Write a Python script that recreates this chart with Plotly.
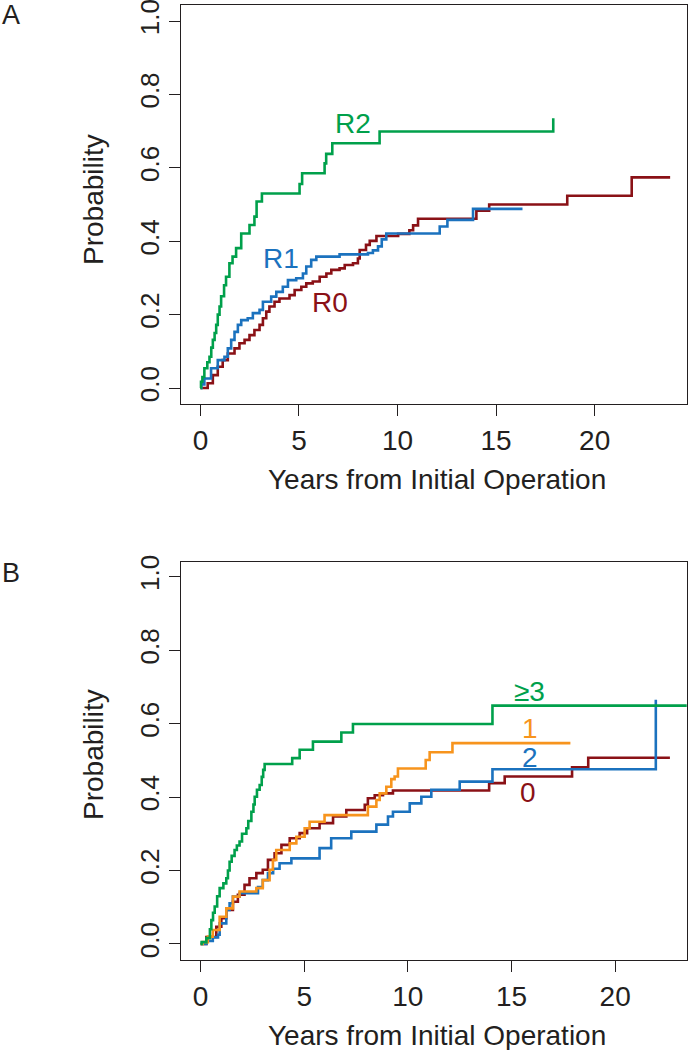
import plotly.graph_objects as go

# ---------------- Panel A: resection margin ----------------
r2_t = [0, 0.03, 0.1, 0.2, 0.35, 0.46, 0.55, 0.63, 0.72, 0.80, 0.88, 0.97, 1.05, 1.2, 1.30, 1.47, 1.63, 1.81,
        2.07, 2.49, 2.74, 2.85, 3.12, 5.03, 5.16, 6.30, 6.38, 6.69, 9.09, 17.9]
r2_p = [0, 0.017, 0.03, 0.054, 0.07, 0.085, 0.11, 0.131, 0.15, 0.172, 0.2, 0.222, 0.25, 0.28, 0.303, 0.34, 0.358,
        0.381, 0.421, 0.444, 0.467, 0.508, 0.530, 0.556, 0.585, 0.612, 0.638, 0.667, 0.699, 0.735]

r1_t = [0, 0.05, 0.2, 0.54, 0.88, 1.22, 1.39, 1.56, 1.73, 1.9, 2.07, 2.4, 2.66, 3.0, 3.17, 3.59, 3.85, 4.18,
        4.44, 4.86, 5.2, 5.37, 5.62, 5.88, 7.06, 8.5, 8.75, 9.01, 9.2, 9.43, 12.14, 12.53, 13.83, 16.34]
r1_p = [0, 0.01, 0.026, 0.054, 0.076, 0.085, 0.108, 0.131, 0.153, 0.172, 0.185, 0.19, 0.204, 0.213, 0.235, 0.249,
        0.262, 0.276, 0.294, 0.299, 0.312, 0.331, 0.349, 0.358, 0.364, 0.368, 0.375, 0.386, 0.405, 0.421, 0.44,
        0.458, 0.488, 0.488]

r0_t = [0, 0.37, 0.63, 0.88, 1.13, 1.39, 1.73, 1.98, 2.24, 2.49, 2.74, 3.0, 3.17, 3.34, 3.5, 3.76, 4.01, 4.52,
        4.78, 5.12, 5.37, 5.7, 6.05, 6.39, 6.64, 7.06, 7.32, 7.74, 7.99, 8.08, 8.4, 8.59, 8.93, 10.03, 10.6,
        10.79, 11.04, 14.0, 14.65, 18.61, 21.88, 23.83]
r0_p = [0, 0.013, 0.035, 0.058, 0.076, 0.094, 0.108, 0.122, 0.131, 0.144, 0.158, 0.172, 0.19, 0.208, 0.222,
        0.235, 0.244, 0.253, 0.267, 0.276, 0.285, 0.29, 0.303, 0.312, 0.322, 0.326, 0.335, 0.34, 0.353, 0.376,
        0.39, 0.401, 0.414, 0.42, 0.43, 0.443, 0.461, 0.483, 0.5, 0.524, 0.574, 0.574]

# ---------------- Panel B ----------------
g3_t = [0, 0.05, 0.28, 0.45, 0.52, 0.6, 0.68, 0.8, 0.92, 1.1, 1.24, 1.32, 1.4, 1.5, 1.64, 1.75, 1.88, 2.0,
        2.21, 2.3, 2.45, 2.55, 2.61, 2.72, 2.85, 2.95, 3.02, 3.09, 4.42, 4.78, 5.42, 6.79, 7.35, 14.08, 23.6]
g3_p = [0, 0.005, 0.016, 0.04, 0.065, 0.085, 0.102, 0.13, 0.152, 0.165, 0.179, 0.2, 0.224, 0.24, 0.256, 0.268,
        0.279, 0.3, 0.315, 0.335, 0.36, 0.38, 0.401, 0.42, 0.433, 0.455, 0.474, 0.49, 0.506, 0.529, 0.551,
        0.576, 0.599, 0.649, 0.649]

n1_t = [0, 0.1, 0.35, 0.59, 0.92, 1.24, 1.56, 1.88, 2.69, 3.0, 3.33, 3.49, 3.65, 4.3, 4.62, 5.02, 5.26, 5.98,
        8.07, 8.48, 8.64, 8.96, 9.2, 9.36, 9.52, 10.86, 11.05, 12.15, 17.84]
n1_p = [0, 0.005, 0.02, 0.038, 0.074, 0.097, 0.129, 0.143, 0.152, 0.174, 0.202, 0.229, 0.256, 0.274, 0.292,
        0.315, 0.333, 0.351, 0.374, 0.392, 0.41, 0.428, 0.449, 0.456, 0.478, 0.501, 0.522, 0.547, 0.547]

n2_t = [0, 0.28, 0.59, 0.84, 0.92, 1.24, 1.4, 1.56, 1.88, 2.77, 3.0, 3.25, 3.5, 3.81, 4.38, 5.74, 6.3, 7.27,
        8.48, 9.04, 9.28, 10.09, 10.65, 11.13, 12.5, 14.08, 21.96]
n2_p = [0, 0.008, 0.018, 0.025, 0.056, 0.093, 0.111, 0.129, 0.138, 0.155, 0.174, 0.193, 0.205, 0.22, 0.233,
        0.261, 0.288, 0.306, 0.325, 0.347, 0.36, 0.383, 0.401, 0.42, 0.442, 0.476, 0.665]

n0_t = [0, 0.28, 0.76, 1.0, 1.24, 1.56, 1.8, 2.12, 2.36, 2.69, 3.0, 3.25, 3.57, 3.9, 4.3, 4.78, 5.14, 5.74,
        6.39, 7.03, 7.92, 8.07, 8.4, 8.8, 9.28, 13.92, 14.67, 17.92, 18.7, 22.64]
n0_p = [0, 0.019, 0.047, 0.07, 0.093, 0.115, 0.134, 0.161, 0.179, 0.193, 0.202, 0.229, 0.247, 0.27, 0.288,
        0.302, 0.315, 0.329, 0.347, 0.365, 0.379, 0.397, 0.405, 0.41, 0.418, 0.438, 0.456, 0.481, 0.507, 0.507]

x_ticks = [0, 5, 10, 15, 20]
y_ticks = [0.0, 0.2, 0.4, 0.6, 0.8, 1.0]
x_title = "Years from Initial Operation"
y_title = "Probability"

GREEN = "#00A04B"
BLUE = "#1B72BE"
RED = "#8A1116"
ORANGE = "#F7941D"
INK = "#231F20"
FONT = "Liberation Sans, Arial, sans-serif"
FS = 28
W, H = 688, 1050

fig = go.Figure()

def add(t, p, color, xa, ya):
    fig.add_trace(go.Scatter(x=t, y=p, mode="lines", line=dict(color=color, width=2.6, shape="hv"),
                             xaxis=xa, yaxis=ya, showlegend=False, hoverinfo="skip", cliponaxis=True))

add(r0_t, r0_p, RED, "x", "y")
add(r1_t, r1_p, BLUE, "x", "y")
add(r2_t, r2_p, GREEN, "x", "y")
add(n0_t, n0_p, RED, "x2", "y2")
add(n2_t, n2_p, BLUE, "x2", "y2")
add(n1_t, n1_p, ORANGE, "x2", "y2")
add(g3_t, g3_p, GREEN, "x2", "y2")

xdom = [181.3 / W, 686.7 / W]
axis_common = dict(showline=True, mirror=True, linecolor=INK, linewidth=1.3, ticks="outside", ticklen=11,
                   tickwidth=1.3, tickcolor=INK, showgrid=False, zeroline=False, automargin=False,
                   ticklabeloverflow="allow", fixedrange=True)
xfont = dict(family=FONT, size=28, color=INK)
yfont = dict(family=FONT, size=26, color=INK)

fig.update_layout(
    width=W, height=H, margin=dict(l=0, r=0, t=0, b=0),
    paper_bgcolor="white", plot_bgcolor="white", showlegend=False, hovermode=False,
    xaxis=dict(domain=xdom, range=[-0.97, 24.67], tickvals=x_ticks, anchor="y", tickfont=xfont, **axis_common),
    yaxis=dict(domain=[1 - 404 / H, 1 - 5 / H], range=[-0.0436, 1.0436], tickvals=y_ticks,
               tickformat=".1f", tickangle=-90, anchor="x", tickfont=yfont, **axis_common),
    xaxis2=dict(domain=xdom, range=[-0.93, 23.45], tickvals=x_ticks, anchor="y2", tickfont=xfont, **axis_common),
    yaxis2=dict(domain=[1 - 960 / H, 1 - 561.7 / H], range=[-0.0436, 1.041], tickvals=y_ticks,
                tickformat=".1f", tickangle=-90, anchor="x2", tickfont=yfont, **axis_common),
)

ann = []
def txt(text, x, y, color=INK, xref="paper", yref="paper", angle=0, size=FS):
    ann.append(dict(text=text, x=x, y=y, xref=xref, yref=yref, showarrow=False, textangle=angle,
                    font=dict(family=FONT, size=size, color=color), xanchor="center", yanchor="middle"))

# panel letters
txt("A", 11 / W, 1 - 15 / H, size=27)
txt("B", 11 / W, 1 - 573 / H, size=27)
# axis titles
txt(y_title, 93 / W, 1 - 200 / H, angle=-90)
txt(y_title, 93 / W, 1 - 755 / H, angle=-90)
txt(x_title, 437 / W, 1 - 480 / H)
txt(x_title, 437 / W, 1 - 1035 / H)
# curve labels
txt("R2", 7.72, 0.722, GREEN, "x", "y")
txt("R1", 4.1, 0.352, BLUE, "x", "y")
txt("R0", 6.59, 0.232, RED, "x", "y")
txt("≥3", 15.88, 0.687, GREEN, "x2", "y2")
txt("1", 15.88, 0.588, ORANGE, "x2", "y2")
txt("2", 15.88, 0.509, BLUE, "x2", "y2")
txt("0", 15.8, 0.412, RED, "x2", "y2")
fig.update_layout(annotations=ann)

fig.write_html("out.html", config={"displayModeBar": False},
               post_script="document.body.style.margin='0';document.body.style.padding='0';")
